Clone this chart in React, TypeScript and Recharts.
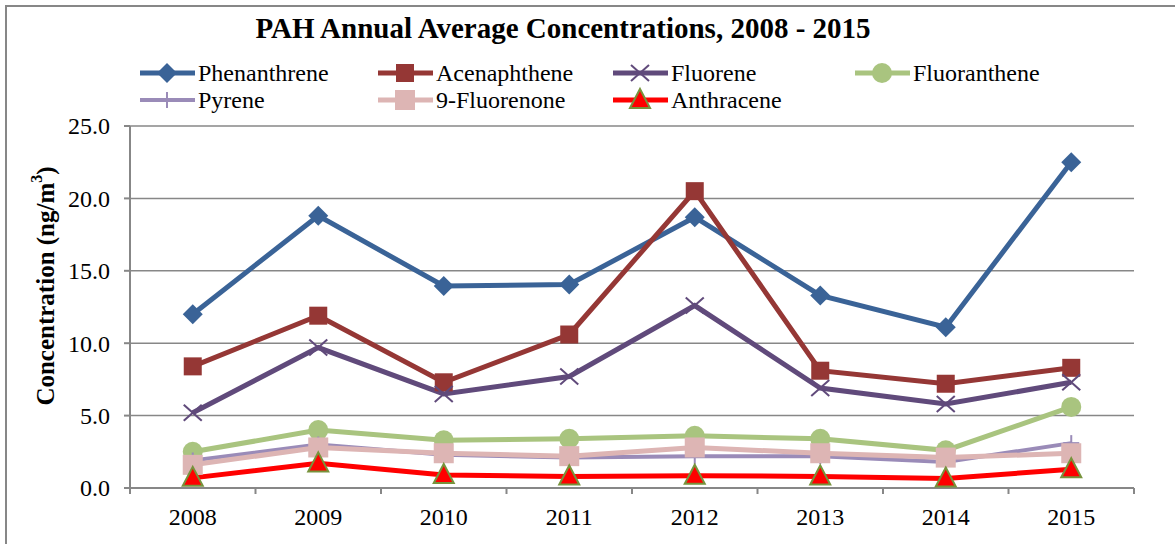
import React from 'react';
import { LineChart, Line, XAxis, YAxis, CartesianGrid } from 'recharts';

const years = ['2008', '2009', '2010', '2011', '2012', '2013', '2014', '2015'];
const phenanthrene = [12.0, 18.8, 13.95, 14.05, 18.7, 13.3, 11.1, 22.5];
const acenaphthene = [8.4, 11.9, 7.3, 10.6, 20.5, 8.1, 7.2, 8.3];
const fluorene = [5.2, 9.7, 6.5, 7.7, 12.6, 6.9, 5.8, 7.3];
const fluoranthene = [2.5, 4.0, 3.3, 3.4, 3.6, 3.4, 2.6, 5.6];
const pyrene = [1.9, 3.0, 2.3, 2.1, 2.2, 2.2, 1.8, 3.1];
const fluorenone = [1.6, 2.8, 2.4, 2.2, 2.8, 2.4, 2.1, 2.4];
const anthracene = [0.7, 1.7, 0.9, 0.8, 0.85, 0.8, 0.65, 1.3];
const yTicks = [0, 5, 10, 15, 20, 25];

const FONT = 'Liberation Serif';
const GRAY = '#878787';

const data = years.map((y, i) => ({
  i,
  year: y,
  phen: phenanthrene[i],
  acen: acenaphthene[i],
  fluo: fluorene[i],
  flan: fluoranthene[i],
  pyr: pyrene[i],
  fone: fluorenone[i],
  anth: anthracene[i],
}));

type MK = 'diamond' | 'square' | 'x' | 'circle' | 'plus' | 'square2' | 'triangle';

function Marker({ cx, cy, kind, color }: { cx: number; cy: number; kind: MK; color: string }) {
  if (cx == null || cy == null) return null;
  switch (kind) {
    case 'diamond':
      return <polygon points={`${cx},${cy - 10} ${cx + 10},${cy} ${cx},${cy + 10} ${cx - 10},${cy}`} fill={color} />;
    case 'square':
      return <rect x={cx - 9} y={cy - 9} width={18} height={18} fill={color} />;
    case 'square2':
      return <rect x={cx - 10} y={cy - 10} width={20} height={20} fill={color} />;
    case 'x':
      return (
        <g stroke={color} strokeWidth={2}>
          <line x1={cx - 9} y1={cy - 8} x2={cx + 9} y2={cy + 8} />
          <line x1={cx - 9} y1={cy + 8} x2={cx + 9} y2={cy - 8} />
        </g>
      );
    case 'circle':
      return <circle cx={cx} cy={cy} r={10} fill={color} />;
    case 'plus':
      return (
        <g stroke={color} strokeWidth={2}>
          <line x1={cx} y1={cy - 8} x2={cx} y2={cy + 8} />
          <line x1={cx - 8} y1={cy} x2={cx + 8} y2={cy} />
        </g>
      );
    case 'triangle':
      return (
        <polygon
          points={`${cx},${cy - 11} ${cx + 10},${cy + 8} ${cx - 10},${cy + 8}`}
          fill="#FF0000"
          stroke="#77933C"
          strokeWidth={2}
        />
      );
  }
  return null;
}

const series: { key: string; name: string; color: string; kind: MK; width: number }[] = [
  { key: 'phen', name: 'Phenanthrene', color: '#3A6397', kind: 'diamond', width: 5 },
  { key: 'acen', name: 'Acenaphthene', color: '#953735', kind: 'square', width: 5 },
  { key: 'fluo', name: 'Fluorene', color: '#604A7B', kind: 'x', width: 5 },
  { key: 'flan', name: 'Fluoranthene', color: '#A9C47F', kind: 'circle', width: 5 },
  { key: 'pyr', name: 'Pyrene', color: '#9A8BB8', kind: 'plus', width: 4 },
  { key: 'fone', name: '9-Fluorenone', color: '#DDB5B4', kind: 'square2', width: 5 },
  { key: 'anth', name: 'Anthracene', color: '#FF0000', kind: 'triangle', width: 5 },
];

const legendCols = [140, 378, 613, 855];
const legendRows = [73, 100];

const XTick = (props: any) => {
  const { x, y, payload } = props;
  const v = payload.value;
  if (Number.isInteger(v)) {
    return (
      <text x={x} y={y + 37} textAnchor="middle" style={{ fontFamily: FONT, fontSize: 24 }} fill="#000">
        {years[v]}
      </text>
    );
  }
  return <line x1={x} x2={x} y1={y} y2={y + 6} stroke={GRAY} strokeWidth={2} />;
};

const YTick = (props: any) => {
  const { x, y, payload } = props;
  return (
    <text x={x} y={y} dy="0.35em" textAnchor="end" style={{ fontFamily: FONT, fontSize: 24 }} fill="#000">
      {Number(payload.value).toFixed(1)}
    </text>
  );
};

const YLabel = (props: any) => {
  const vb = props.viewBox || {};
  const cx = 45;
  const cy = vb.y + vb.height / 2 - 21;
  return (
    <text
      x={cx}
      y={cy}
      transform={`rotate(-90, ${cx}, ${cy})`}
      textAnchor="middle"
      dominantBaseline="central"
      style={{ fontFamily: FONT, fontSize: 25, fontWeight: 'bold' }}
      fill="#000"
    >
      <tspan>Concentration (ng/m</tspan>
      <tspan dy={-9} style={{ fontSize: 16 }}>3</tspan>
      <tspan dy={9}>)</tspan>
    </text>
  );
};

export default function App() {
  const xTicks: number[] = [];
  for (let k = -0.5; k <= 7.5; k += 0.5) xTicks.push(k);
  return (
    <div style={{ position: 'absolute', left: 0, top: 0, width: 1175, height: 544, background: '#fff' }}>
      <LineChart
        width={1175}
        height={544}
        data={data}
        margin={{ top: 126, right: 41, bottom: 0, left: 0 }}
      >
        <CartesianGrid vertical={false} stroke={GRAY} strokeWidth={1.5} />
        <XAxis
          dataKey="i"
          type="number"
          domain={[-0.5, 7.5]}
          ticks={xTicks}
          interval={0}
          height={56}
          tickLine={false}
          tickSize={0}
          tickMargin={0}
          axisLine={{ stroke: GRAY, strokeWidth: 2 }}
          tick={<XTick />}
          allowDataOverflow
        />
        <YAxis
          domain={[0, 25]}
          ticks={yTicks}
          interval={0}
          width={130}
          tickSize={6}
          tickMargin={14}
          tick={<YTick />}
          tickLine={{ stroke: GRAY, strokeWidth: 2 }}
          axisLine={{ stroke: GRAY, strokeWidth: 2 }}
          label={<YLabel />}
        />
        <YAxis
          yAxisId="r"
          orientation="right"
          domain={[0, 25]}
          width={0}
          tick={false}
          tickLine={false}
          axisLine={{ stroke: GRAY, strokeWidth: 2 }}
        />
        {series.map((s) => (
          <Line
            key={s.key}
            dataKey={s.key}
            name={s.name}
            stroke={s.color}
            strokeWidth={s.width}
            isAnimationActive={false}
            dot={(p: any) => <Marker key={`${s.key}-${p.index}`} cx={p.cx} cy={p.cy} kind={s.kind} color={s.color} />}
            activeDot={false}
          />
        ))}
      </LineChart>
      <svg
        width={1175}
        height={544}
        style={{ position: 'absolute', left: 0, top: 0, pointerEvents: 'none' }}
      >
        <rect x={6} y={6} width={1200} height={600} fill="none" stroke={GRAY} strokeWidth={2} />
        <text x={563} y={38} textAnchor="middle" style={{ fontFamily: FONT, fontSize: 29, fontWeight: 'bold' }} fill="#000">
          PAH Annual Average Concentrations, 2008 - 2015
        </text>
        {series.map((s, idx) => {
          const col = idx < 4 ? idx : idx - 4;
          const row = idx < 4 ? 0 : 1;
          const x0 = legendCols[col];
          const y0 = legendRows[row];
          return (
            <g key={s.key}>
              <line x1={x0} x2={x0 + 55} y1={y0} y2={y0} stroke={s.color} strokeWidth={s.width} />
              <Marker cx={x0 + 27} cy={y0} kind={s.kind} color={s.color} />
              <text x={x0 + 58} y={y0} dominantBaseline="central" style={{ fontFamily: FONT, fontSize: 24 }} fill="#000">
                {s.name}
              </text>
            </g>
          );
        })}
      </svg>
    </div>
  );
}
